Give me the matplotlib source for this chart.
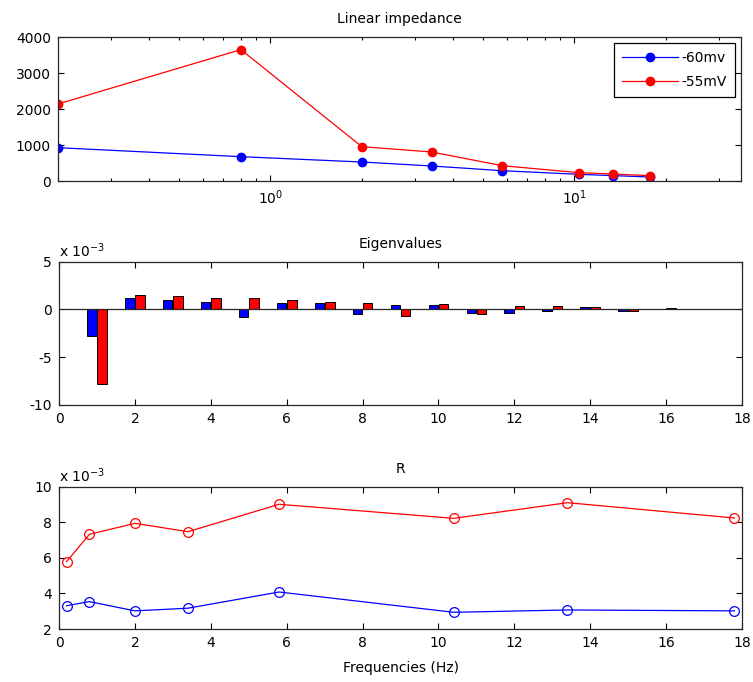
import numpy as np
import matplotlib
matplotlib.use("Agg")
import matplotlib.pyplot as plt
from matplotlib.ticker import FuncFormatter, LogLocator, NullFormatter

plt.rcParams['font.family'] = ['DejaVu Sans']
plt.rcParams['font.size'] = 10

# frequencies (Hz)
freqs = [0.2, 0.8, 2.0, 3.4, 5.8, 10.4, 13.4, 17.8]

# linear impedance
imp_60 = [926, 676, 528, 417, 286, 185, 150, 110]
imp_55 = [2140, 3650, 954, 806, 425, 231, 195, 147]

# eigenvalues (x 1e-3)
eig_idx = list(range(1, 17))
eig_60 = [-2.78, 1.25, 0.97, 0.83, -0.80, 0.69, 0.69, -0.52,
          0.42, 0.42, -0.35, -0.38, -0.20, 0.24, -0.15, 0.0]
eig_55 = [-7.78, 1.52, 1.39, 1.25, 1.25, 0.97, 0.83, 0.69,
          -0.67, 0.58, -0.52, 0.38, 0.38, 0.24, -0.15, 0.12]

# R (x 1e-3)
r_60 = [3.31, 3.54, 3.02, 3.17, 4.08, 2.94, 3.07, 3.02]
r_55 = [5.79, 7.32, 7.94, 7.47, 9.01, 8.22, 9.10, 8.24]

eig_60 = np.array(eig_60) * 1e-3
eig_55 = np.array(eig_55) * 1e-3
r_60 = np.array(r_60) * 1e-3
r_55 = np.array(r_55) * 1e-3

blue = (0, 0, 1)
red = (1, 0, 0)
edge = '#262626'
fs = 10


def matlab_style(ax):
    ax.tick_params(direction='in', top=True, right=True, which='both',
                   length=4, width=0.8, colors='black', labelsize=fs, pad=5)
    ax.tick_params(which='minor', length=2.5)
    for s in ax.spines.values():
        s.set_color(edge)
        s.set_linewidth(0.9)


fig = plt.figure(figsize=(7.53, 6.82), dpi=100)

# --- Linear impedance
ax1 = fig.add_axes([0.077, 0.7346, 0.907, 0.2111])
ax1.plot(freqs, imp_60, '-o', color=blue, lw=0.9, ms=6, label='-60mv')
ax1.plot(freqs, imp_55, '-o', color=red, lw=0.9, ms=6, label='-55mV')
ax1.set_xscale('log')
ax1.set_xlim(0.2, 35.4)
ax1.set_ylim(0, 4000)
ax1.set_yticks([0, 1000, 2000, 3000, 4000])
ax1.xaxis.set_minor_locator(LogLocator(base=10, subs=np.arange(2, 10)))
ax1.xaxis.set_minor_formatter(NullFormatter())
ax1.set_title('Linear impedance', fontsize=fs, pad=10)
matlab_style(ax1)
leg = ax1.legend(loc='upper right', fancybox=False, framealpha=1,
                 edgecolor='black', fontsize=fs, handlelength=4.0,
                 handletextpad=0.3, borderaxespad=0.45, labelspacing=0.75,
                 borderpad=0.55)
leg.get_frame().set_linewidth(0.9)

# --- Eigenvalues
ax2 = fig.add_axes([0.0784, 0.4062, 0.907, 0.2101])
x = np.array(eig_idx)
ax2.bar(x - 0.135, eig_60, width=0.25, color=blue, edgecolor='black', linewidth=0.7)
ax2.bar(x + 0.135, eig_55, width=0.25, color=red, edgecolor='black', linewidth=0.7)
ax2.axhline(0, color=edge, lw=0.9)
ax2.set_xlim(0, 18)
ax2.set_ylim(-10e-3, 5e-3)
ax2.set_xticks(range(0, 19, 2))
ax2.set_yticks([-10e-3, -5e-3, 0, 5e-3])
ax2.yaxis.set_major_formatter(FuncFormatter(lambda v, p: '%g' % round(v * 1e3, 6)))
ax2.set_title('Eigenvalues', fontsize=fs, pad=10)
ax2.text(0.0, 1.015, 'x 10$^{-3}$', transform=ax2.transAxes, fontsize=fs,
         ha='left', va='bottom')
matlab_style(ax2)

# --- R
ax3 = fig.add_axes([0.0784, 0.0777, 0.907, 0.2087])
ax3.plot(freqs, r_60, '-o', color=blue, lw=0.9, ms=7, mfc='none', mew=0.9)
ax3.plot(freqs, r_55, '-o', color=red, lw=0.9, ms=7, mfc='none', mew=0.9)
ax3.set_xlim(0, 18)
ax3.set_ylim(2e-3, 10e-3)
ax3.set_xticks(range(0, 19, 2))
ax3.set_yticks([2e-3, 4e-3, 6e-3, 8e-3, 10e-3])
ax3.yaxis.set_major_formatter(FuncFormatter(lambda v, p: '%g' % round(v * 1e3, 6)))
ax3.set_title('R', fontsize=fs, pad=10)
ax3.text(0.0, 1.015, 'x 10$^{-3}$', transform=ax3.transAxes, fontsize=fs,
         ha='left', va='bottom')
ax3.set_xlabel('Frequencies (Hz)', fontsize=fs, labelpad=8)
matlab_style(ax3)

fig.savefig('out.png', dpi=100)
